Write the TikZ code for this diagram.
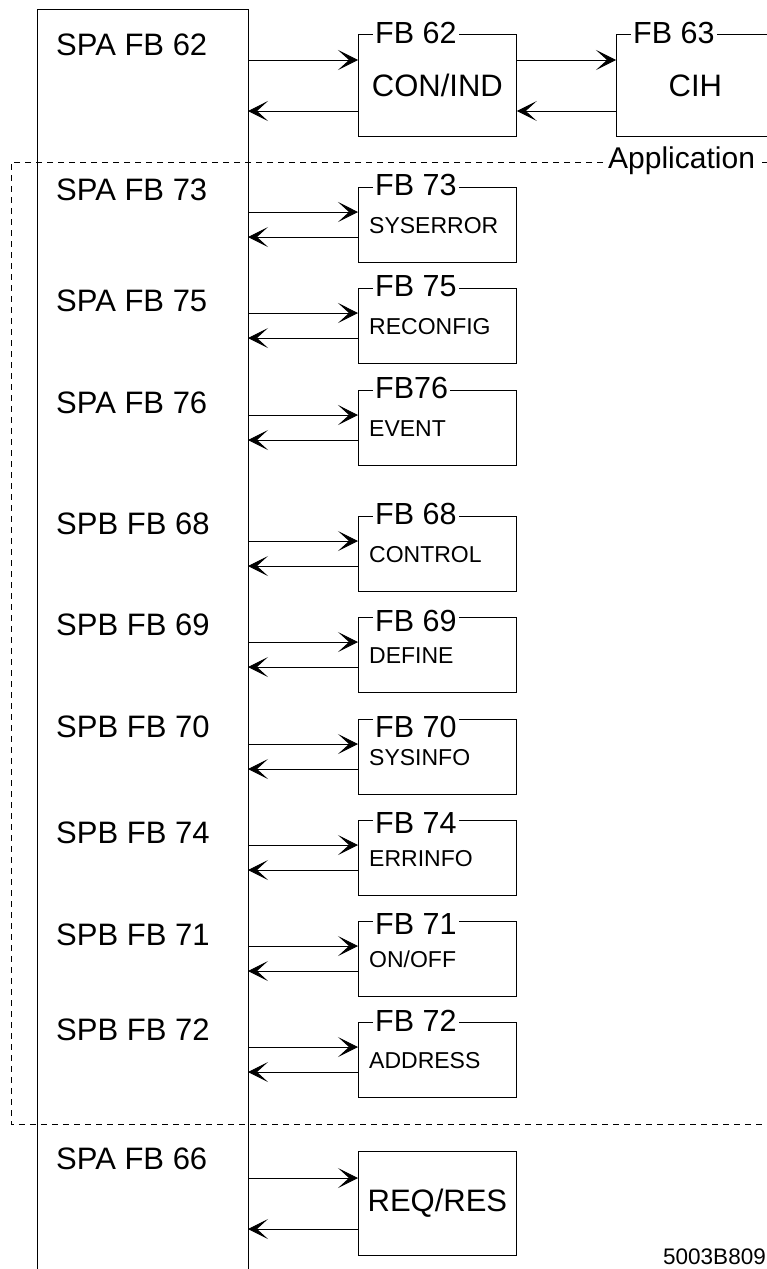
\documentclass[tikz,border=0pt]{standalone}
\usepackage{fontspec}
\setmainfont{Liberation Sans}
\usetikzlibrary{arrows.meta,calc}

\tikzset{
  fbbox/.style={draw, line width=0.8pt, minimum width=158pt, minimum height=75pt, inner sep=0pt, anchor=north west},
  fbtag/.style={fill=white, inner xsep=2pt, inner ysep=0pt, anchor=base west, font=\fontsize{30.5}{30}\selectfont},
  biglbl/.style={anchor=base west, inner sep=0pt, font=\fontsize{31}{30}\selectfont},
  smalllbl/.style={anchor=base west, inner sep=0pt, font=\fontsize{23}{23}\selectfont},
  fwd/.style={-{Stealth[length=20pt,width=20pt,inset=11pt]}, line width=0.8pt},
  appline/.style={dash pattern=on 6pt off 5pt, line width=0.8pt},
}

\begin{document}
\begin{tikzpicture}[x=1pt, y=-1pt]
  \useasboundingbox (0,0) rectangle (767,1269);
  \clip (0,0) rectangle (767,1269);
  % main column (open at the bottom)
  \draw[line width=0.8pt] (37,1280) -- (37,9) -- (248,9) -- (248,1280);
  % dashed application frame
  \draw[appline] (790,162) -- (11,162) -- (11,1124) -- (790,1124);
  \node[fill=white, inner xsep=2pt, inner ysep=1pt, anchor=base west,
        font=\fontsize{30}{30}\selectfont] (app) at (606,168) {Application};
  % top row: FB 62 and FB 63
  \node[biglbl] (m62) at (56,55) {SPA FB 62};
  \node[fbbox, minimum height=102pt] (b62) at (358,34) {};
  \node[font=\fontsize{31}{30}\selectfont] (n62) at (b62.center) {CON/IND};
  \node[fbtag] (t62) at (373,43) {FB 62};
  \node[fbbox, minimum height=102pt] (b63) at (616,34) {};
  \node[font=\fontsize{31}{30}\selectfont] (n63) at (b63.center) {CIH};
  \node[fbtag] (t63) at (631,43) {FB 63};
  \coordinate (o62) at (248,60);
  \coordinate (i62) at (248,111);
  \draw[fwd] (o62) -- (o62 -| b62.west);
  \draw[fwd] (i62 -| b62.west) -- (i62);
  \draw[fwd] (o62 -| b62.east) -- (o62 -| b63.west);
  \draw[fwd] (i62 -| b63.west) -- (i62 -| b62.east);
  % rows inside the application frame
  \foreach \mn/\my/\bt/\ty/\tn/\inner [count=\k] in {
      SPA FB 73/200/187/195/FB 73/SYSERROR,
      SPA FB 75/311/288/296/FB 75/RECONFIG,
      SPA FB 76/413/390/398/FB76/EVENT,
      SPB FB 68/534/516/524/FB 68/CONTROL,
      SPB FB 69/635/617/631/FB 69/DEFINE,
      SPB FB 70/737/719/737/FB 70/SYSINFO,
      SPB FB 74/843/820/833/FB 74/ERRINFO,
      SPB FB 71/945/921/934/FB 71/{ON/OFF},
      SPB FB 72/1040/1022/1031/FB 72/ADDRESS}
  {
    \node[biglbl] (m\k) at (56,\my) {\mn};
    \node[fbbox] (b\k) at (358,\bt) {};
    \node[smalllbl] (n\k) at (369,\bt+46) {\inner};
    \node[fbtag] (t\k) at (373,\ty) {\tn};
    \coordinate (o\k) at (248,\bt+25);
    \coordinate (i\k) at (248,\bt+50);
    \draw[fwd] (o\k) -- (o\k -| b\k.west);
    \draw[fwd] (i\k -| b\k.west) -- (i\k);
  }
  % bottom row: REQ/RES
  \node[biglbl] (m66) at (56,1169) {SPA FB 66};
  \node[fbbox, minimum height=104pt] (b66) at (358,1151) {};
  \node[font=\fontsize{31}{30}\selectfont] (n66) at (b66.center) {REQ/RES};
  \coordinate (o66) at (248,1178);
  \coordinate (i66) at (248,1229);
  \draw[fwd] (o66) -- (o66 -| b66.west);
  \draw[fwd] (i66 -| b66.west) -- (i66);
  % figure number
  \node[anchor=base east, inner sep=0pt, font=\fontsize{22.5}{22.5}\selectfont] (code) at (766,1264) {5003B809};
\end{tikzpicture}
\end{document}
